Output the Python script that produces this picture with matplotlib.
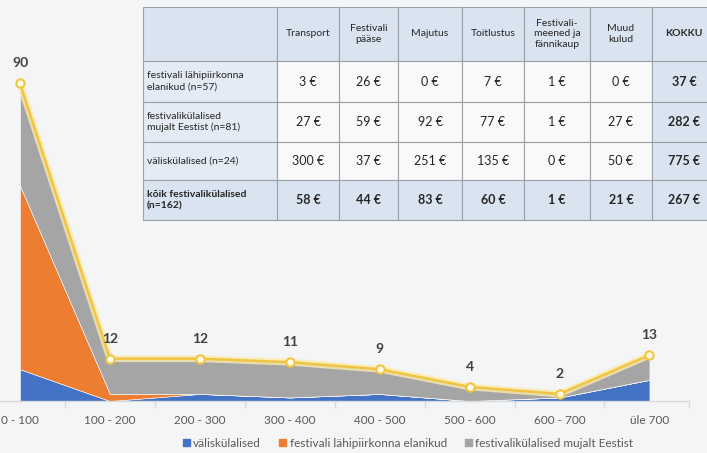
import matplotlib.pyplot as plt
from matplotlib.patches import Rectangle, Patch

plt.rcParams['font.family'] = ['Lato', 'DejaVu Sans']

# --- DATA ---
categories = ["0 - 100", "100 - 200", "200 - 300", "300 - 400",
              "400 - 500", "500 - 600", "600 - 700", "üle 700"]
valis = [9, 0, 2, 1, 2, 0, 1, 6]          # väliskülalised
lahi = [52, 2, 0, 0, 0, 0, 0, 0]          # festivali lähipiirkonna elanikud
mujalt = [29, 10, 10, 10, 7, 4, 1, 7]     # festivalikülalised mujalt Eestist
totals = [90, 12, 12, 11, 9, 4, 2, 13]

series_names = ["väliskülalised", "festivali lähipiirkonna elanikud",
                "festivalikülalised mujalt Eestist"]

table_header = ["", "Transport", "Festivali\npääse", "Majutus", "Toitlustus",
                "Festivali-\nmeened ja\nfännikaup", "Muud\nkulud", "KOKKU"]
table_rows = ["festivali lähipiirkonna\nelanikud (n=57)",
              "festivalikülalised\nmujalt Eestist (n=81)",
              "väliskülalised (n=24)",
              "kõik festivalikülalised\n(n=162)"]
table_values = [
    [3, 26, 0, 7, 1, 0, 37],
    [27, 59, 92, 77, 1, 27, 282],
    [300, 37, 251, 135, 0, 50, 775],
    [58, 44, 83, 60, 1, 21, 267],
]

# --- COLOURS ---
BG = '#f4f5f7'
C_BLUE = '#4472C4'
C_ORANGE = '#ED7D31'
C_GRAY = '#A5A5A5'
C_LINE = '#F0C542'
TXT = '#595959'

W, H = 707, 453
fig = plt.figure(figsize=(W / 100, H / 100), dpi=100)
fig.patch.set_facecolor(BG)

# main chart axes
ax = fig.add_axes([0, (H - 401) / H, 689 / W, (401 - 48) / H])
ax.set_facecolor(BG)
x = list(range(len(categories)))
ax.stackplot(x, valis, lahi, mujalt, colors=[C_BLUE, C_ORANGE, C_GRAY],
             edgecolor='white', linewidth=0.4, zorder=2)

# glow + line + markers for totals
ax.plot(x, totals, color='#FBEBB0', linewidth=5, alpha=0.8, zorder=3,
        solid_capstyle='round')
ax.plot(x, totals, color=C_LINE, linewidth=1.8, zorder=4, marker='o',
        markersize=6, markerfacecolor='#fffbe8', markeredgecolor=C_LINE,
        markeredgewidth=1.5)
for xi, t in zip(x, totals):
    ax.annotate(str(t), (xi, t), xytext=(0, 10), textcoords='offset points',
                ha='center', va='bottom', fontsize=10, fontweight='bold',
                color='#404040', zorder=5)

ax.set_xlim(-20 / 89.9, 7.44)
ax.set_ylim(0, 100)
for s in ['top', 'right', 'left']:
    ax.spines[s].set_visible(False)
ax.spines['bottom'].set_color('#d9d9d9')
ax.spines['bottom'].set_linewidth(1)
ax.set_yticks([])
ax.set_xticks(x)
ax.set_xticklabels(categories, fontsize=8.5, color=TXT)
ax.tick_params(axis='x', which='major', length=0, pad=10)
ax.set_xticks([i + 0.5 for i in range(7)] + [7.44], minor=True)
ax.tick_params(axis='x', which='minor', length=5, color='#d9d9d9', width=1)

# legend
handles = [Patch(color=C_BLUE), Patch(color=C_ORANGE), Patch(color=C_GRAY)]
fig.legend(handles, series_names, loc='center', bbox_to_anchor=(0.577, 0.022),
           ncol=3, frameon=False, fontsize=8.5, labelcolor=TXT,
           handlelength=0.6, handleheight=0.6, handletextpad=0.3,
           columnspacing=1.5)

# --- TABLE (overlay in pixel coords) ---
tx = fig.add_axes([0, 0, 1, 1])
tx.set_xlim(0, W)
tx.set_ylim(H, 0)
tx.axis('off')

col_edges = [143, 277, 339, 398, 462, 524, 590, 652, 716]
row_edges = [7, 61, 102, 142, 180, 220]
HEAD = '#dae4f0'
LIGHT = '#e4ebf4'
CELL = '#f9f9f9'
BORDER = '#9aa0a6'
DARK = '#262626'

n_cols = len(col_edges) - 1
n_rows = len(row_edges) - 1
for r in range(n_rows):
    for c in range(n_cols):
        x0, x1 = col_edges[c], col_edges[c + 1]
        y0, y1 = row_edges[r], row_edges[r + 1]
        if r == 0 or r == n_rows - 1 or c == n_cols - 1:
            fc = HEAD
        elif c == 0:
            fc = LIGHT
        else:
            fc = CELL
        tx.add_patch(Rectangle((x0, y0), x1 - x0, y1 - y0, facecolor=fc,
                               edgecolor=BORDER, linewidth=0.8))
        xc, yc = (x0 + x1) / 2, (y0 + y1) / 2
        if r == 0:
            if table_header[c]:
                bold = table_header[c] == "KOKKU"
                tx.text(xc, yc, table_header[c], ha='center', va='center',
                        fontsize=7.5, color=DARK, linespacing=1.15,
                        fontweight='bold' if bold else 'normal')
        elif c == 0:
            bold = r == n_rows - 1
            tx.text(x0 + 4, yc, table_rows[r - 1], ha='left', va='center',
                    fontsize=7.5, color=DARK, linespacing=1.3,
                    fontweight='bold' if bold else 'normal')
        else:
            bold = (r == n_rows - 1) or (c == n_cols - 1)
            tx.text(xc, yc, f"{table_values[r - 1][c - 1]} €", ha='center',
                    va='center', fontsize=9, color=DARK,
                    fontweight='bold' if bold else 'normal')

fig.savefig('out.png', dpi=100, facecolor=BG)
